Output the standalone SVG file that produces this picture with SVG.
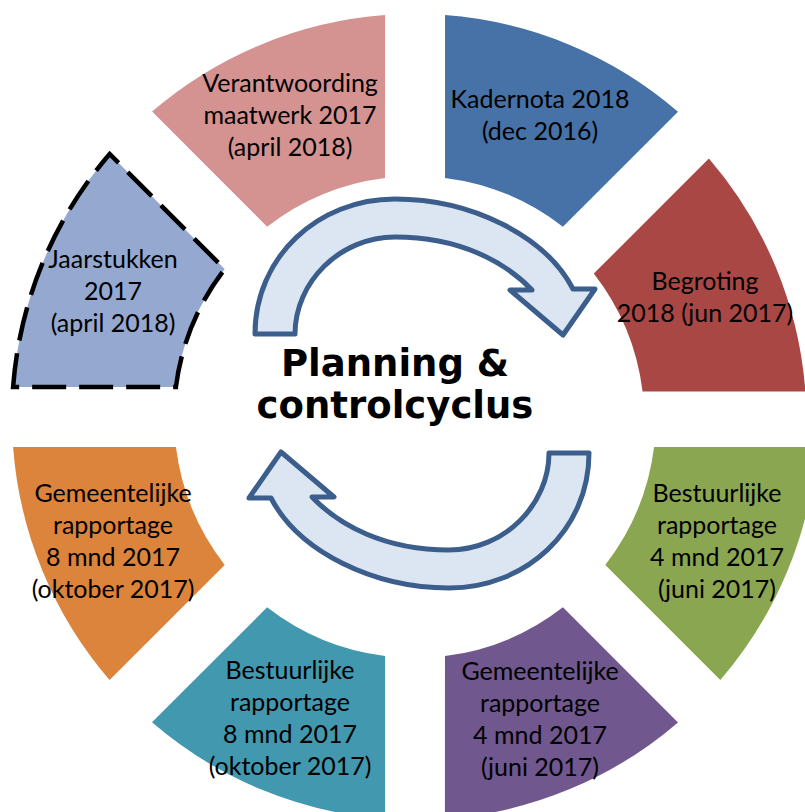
<svg xmlns="http://www.w3.org/2000/svg" width="805" height="812" viewBox="0 0 805 812">
<style>
.lbl{font-family:Lato,"Noto Sans",sans-serif;font-size:25px;fill:#000;text-anchor:middle}
.title{font-family:"DejaVu Sans",Verdana,sans-serif;font-weight:bold;font-size:37px;fill:#000;text-anchor:middle}
.arrow{fill:#DCE6F2;stroke:#3B5E8C;stroke-width:5;stroke-linejoin:round}
</style>
<rect width="805" height="812" fill="#fff"/>
<g id="connectors">
<path id="arrow-top" class="arrow" d="M 255 334 C 255 257 318 199 395 199 C 470 199 545 235 573 289 L 595 289 L 563 335 L 510 290 L 532 290 C 505 262 460 237 395 237 C 340 237 295 282 295 334 Z"/>
<path id="arrow-bottom" class="arrow" transform="rotate(180 422 393.5)" d="M 255 334 C 255 257 318 199 395 199 C 470 199 545 235 573 289 L 595 289 L 563 335 L 510 290 L 532 290 C 505 262 460 237 395 237 C 340 237 295 282 295 334 Z"/>
</g>
<g id="kadernota">
<path fill="#4672A7" d="M 445.0 15.1 A 403 403 0 0 1 678.0 111.7 L 562.9 226.7 A 241 241 0 0 0 445.0 177.9 Z"/>
<text class="lbl" x="540" y="108">Kadernota 2018</text>
<text class="lbl" x="540" y="140">(dec 2016)</text>
</g>
<g id="begroting">
<path fill="#A84744" transform="translate(-11.5 4.5)" d="M 720.4 154.1 A 403 403 0 0 1 816.9 387.1 L 654.1 387.0 A 241 241 0 0 0 605.3 269.1 Z"/>
<text class="lbl" x="705" y="290">Begroting</text>
<text class="lbl" x="705" y="322">2018 (jun 2017)</text>
</g>
<g id="bestuurlijke-4">
<path fill="#8AA650" d="M 816.9 447.0 A 403 403 0 0 1 720.3 680.0 L 605.3 564.9 A 241 241 0 0 0 654.1 447.0 Z"/>
<text class="lbl" x="717" y="502">Bestuurlijke</text>
<text class="lbl" x="717" y="534">rapportage</text>
<text class="lbl" x="717" y="566">4 mnd 2017</text>
<text class="lbl" x="717" y="598">(juni 2017)</text>
</g>
<g id="gemeentelijke-4">
<path fill="#70578E" d="M 678.0 722.4 A 403 403 0 0 1 444.9 818.9 L 445.0 656.1 A 241 241 0 0 0 562.9 607.3 Z"/>
<text class="lbl" x="540" y="680">Gemeentelijke</text>
<text class="lbl" x="540" y="712">rapportage</text>
<text class="lbl" x="540" y="744">4 mnd 2017</text>
<text class="lbl" x="540" y="776">(juni 2017)</text>
</g>
<g id="bestuurlijke-8">
<path fill="#4298AF" d="M 385.0 818.9 A 403 403 0 0 1 152.0 722.3 L 267.1 607.3 A 241 241 0 0 0 385.0 656.1 Z"/>
<text class="lbl" x="290" y="679">Bestuurlijke</text>
<text class="lbl" x="290" y="711">rapportage</text>
<text class="lbl" x="290" y="743">8 mnd 2017</text>
<text class="lbl" x="290" y="775">(oktober 2017)</text>
</g>
<g id="gemeentelijke-8">
<path fill="#DC833C" d="M 109.6 680.0 A 403 403 0 0 1 13.1 446.9 L 175.9 447.0 A 241 241 0 0 0 224.7 564.9 Z"/>
<text class="lbl" x="113" y="502">Gemeentelijke</text>
<text class="lbl" x="113" y="534">rapportage</text>
<text class="lbl" x="113" y="566">8 mnd 2017</text>
<text class="lbl" x="113" y="598">(oktober 2017)</text>
</g>
<g id="jaarstukken">
<path fill="#94A8D0" stroke="#000" stroke-width="4.5" stroke-dasharray="34 13" d="M 13.1 387.0 A 403 403 0 0 1 109.7 154.0 L 224.7 269.1 A 241 241 0 0 0 175.9 387.0 Z"/>
<text class="lbl" x="113" y="268">Jaarstukken</text>
<text class="lbl" x="113" y="300">2017</text>
<text class="lbl" x="113" y="332">(april 2018)</text>
</g>
<g id="verantwoording">
<path fill="#D49291" d="M 152.1 111.6 A 403 403 0 0 1 385.1 15.1 L 385.0 177.9 A 241 241 0 0 0 267.1 226.7 Z"/>
<text class="lbl" x="290" y="92">Verantwoording</text>
<text class="lbl" x="290" y="124">maatwerk 2017</text>
<text class="lbl" x="290" y="156">(april 2018)</text>
</g>
<g id="title">
<text class="title" x="395" y="376">Planning &amp;</text>
<text class="title" x="395" y="418">controlcyclus</text>
</g>
</svg>
